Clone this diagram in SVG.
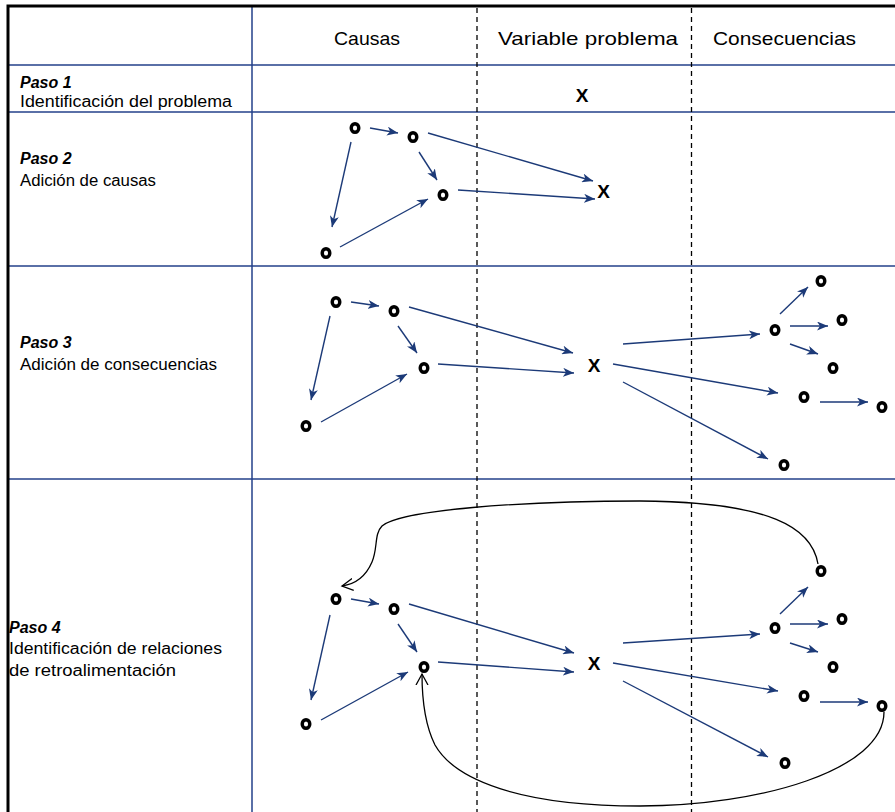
<svg xmlns="http://www.w3.org/2000/svg" width="895" height="812" viewBox="0 0 895 812">
<style>
.bg{fill:#ffffff}
.hl{stroke:#23408a;stroke-width:1.5;fill:none}
.dash{stroke:#000;stroke-width:1.3;stroke-dasharray:5,4;fill:none}
.border{stroke:#000;stroke-width:3;fill:none}
.hdr{font-family:"Liberation Sans",Arial,sans-serif;font-size:19px;fill:#000}
.step{font-family:"Liberation Sans",Arial,sans-serif;font-size:16px;font-weight:bold;font-style:italic;fill:#000}
.desc{font-family:"Liberation Sans",Arial,sans-serif;font-size:16px;fill:#000}
.xl{font-family:"Liberation Sans",Arial,sans-serif;font-size:19px;font-weight:bold;fill:#000;text-anchor:middle}
.node{fill:none;stroke:#000;stroke-width:3.4}
.arr{stroke:#1c3a78;stroke-width:1.4;fill:none;marker-end:url(#ah)}
.fb{stroke:#000;stroke-width:1.3;fill:none;marker-end:url(#oh)}
</style>
<defs>
<marker id="ah" markerUnits="userSpaceOnUse" markerWidth="12" markerHeight="9" refX="11" refY="4.5" orient="auto">
<path d="M0,0 L11,4.5 L0,9 L3,4.5 Z" fill="#1c3a78"/>
</marker>
<marker id="oh" markerUnits="userSpaceOnUse" markerWidth="13" markerHeight="14" refX="11" refY="7" orient="auto">
<path d="M0,1 L11,7 L0,13" fill="none" stroke="#000" stroke-width="1.3"/>
</marker>
</defs>
<rect class="bg" x="0" y="0" width="895" height="812"/>
<g id="table">
<line class="hl" x1="8" y1="65" x2="895" y2="65"/>
<line class="hl" x1="8" y1="112" x2="895" y2="112"/>
<line class="hl" x1="8" y1="266" x2="895" y2="266"/>
<line class="hl" x1="8" y1="479" x2="895" y2="479"/>
<line class="hl" x1="252" y1="6" x2="252" y2="812"/>
<line class="dash" x1="477" y1="8" x2="477" y2="812"/>
<line class="dash" x1="691.5" y1="8" x2="691.5" y2="812"/>
<path class="border" d="M8,812 L8,6 L895,6"/>
</g>
<g id="headers">
<text class="hdr" x="334" y="45" textLength="66" lengthAdjust="spacingAndGlyphs">Causas</text>
<text class="hdr" x="498" y="45" textLength="180" lengthAdjust="spacingAndGlyphs">Variable problema</text>
<text class="hdr" x="713" y="45" textLength="143" lengthAdjust="spacingAndGlyphs">Consecuencias</text>
</g>
<g id="step-labels">
<text class="step" x="20" y="88">Paso 1</text>
<text class="desc" x="20" y="107" textLength="212" lengthAdjust="spacingAndGlyphs">Identificación del problema</text>
<text class="step" x="20" y="164">Paso 2</text>
<text class="desc" x="20" y="186" textLength="136" lengthAdjust="spacingAndGlyphs">Adición de causas</text>
<text class="step" x="20" y="348">Paso 3</text>
<text class="desc" x="20" y="370" textLength="197" lengthAdjust="spacingAndGlyphs">Adición de consecuencias</text>
<text class="step" x="9" y="633">Paso 4</text>
<text class="desc" x="9" y="654" textLength="213" lengthAdjust="spacingAndGlyphs">Identificación de relaciones</text>
<text class="desc" x="9" y="676" textLength="167" lengthAdjust="spacingAndGlyphs">de retroalimentación</text>
</g>
<g id="s1-x"><text class="xl" x="582" y="102">X</text></g>
<g id="s2-a"><ellipse class="node" cx="355" cy="128" rx="3.8" ry="4.3"/></g>
<g id="s2-b"><ellipse class="node" cx="413" cy="137" rx="3.8" ry="4.3"/></g>
<g id="s2-c"><ellipse class="node" cx="443" cy="195" rx="3.8" ry="4.3"/></g>
<g id="s2-d"><ellipse class="node" cx="326" cy="253" rx="3.8" ry="4.3"/></g>
<g id="s2-x"><text class="xl" x="603.5" y="198">X</text></g>
<g id="s3-a"><ellipse class="node" cx="336" cy="302" rx="3.8" ry="4.3"/></g>
<g id="s3-b"><ellipse class="node" cx="394" cy="311" rx="3.8" ry="4.3"/></g>
<g id="s3-c"><ellipse class="node" cx="424" cy="368" rx="3.8" ry="4.3"/></g>
<g id="s3-d"><ellipse class="node" cx="306" cy="426" rx="3.8" ry="4.3"/></g>
<g id="s3-x"><text class="xl" x="594" y="372">X</text></g>
<g id="s3-e"><ellipse class="node" cx="775" cy="330" rx="3.8" ry="4.3"/></g>
<g id="s3-f"><ellipse class="node" cx="821" cy="281" rx="3.8" ry="4.3"/></g>
<g id="s3-g"><ellipse class="node" cx="842" cy="320" rx="3.8" ry="4.3"/></g>
<g id="s3-h"><ellipse class="node" cx="833" cy="368" rx="3.8" ry="4.3"/></g>
<g id="s3-i"><ellipse class="node" cx="804" cy="397" rx="3.8" ry="4.3"/></g>
<g id="s3-j"><ellipse class="node" cx="882" cy="407" rx="3.8" ry="4.3"/></g>
<g id="s3-k"><ellipse class="node" cx="784" cy="465" rx="3.8" ry="4.3"/></g>
<g id="s4-a"><ellipse class="node" cx="336" cy="599" rx="3.8" ry="4.3"/></g>
<g id="s4-b"><ellipse class="node" cx="394" cy="609" rx="3.8" ry="4.3"/></g>
<g id="s4-c"><ellipse class="node" cx="424" cy="667" rx="3.8" ry="4.3"/></g>
<g id="s4-d"><ellipse class="node" cx="306" cy="724" rx="3.8" ry="4.3"/></g>
<g id="s4-x"><text class="xl" x="594" y="670">X</text></g>
<g id="s4-e"><ellipse class="node" cx="775" cy="628" rx="3.8" ry="4.3"/></g>
<g id="s4-f"><ellipse class="node" cx="821" cy="571" rx="3.8" ry="4.3"/></g>
<g id="s4-g"><ellipse class="node" cx="842" cy="619" rx="3.8" ry="4.3"/></g>
<g id="s4-h"><ellipse class="node" cx="833" cy="667" rx="3.8" ry="4.3"/></g>
<g id="s4-i"><ellipse class="node" cx="804" cy="696" rx="3.8" ry="4.3"/></g>
<g id="s4-j"><ellipse class="node" cx="882" cy="706" rx="3.8" ry="4.3"/></g>
<g id="s4-k"><ellipse class="node" cx="785" cy="763" rx="3.8" ry="4.3"/></g>
<g id="connectors">
<line class="arr" x1="370" y1="128" x2="398" y2="133"/>
<line class="arr" x1="351" y1="142" x2="332" y2="227"/>
<line class="arr" x1="419" y1="152" x2="437" y2="180"/>
<line class="arr" x1="428" y1="133" x2="593" y2="181"/>
<line class="arr" x1="340" y1="247" x2="428" y2="199"/>
<line class="arr" x1="458" y1="190" x2="595" y2="199"/>
<line class="arr" x1="351" y1="302" x2="379" y2="306"/>
<line class="arr" x1="330" y1="316" x2="311" y2="400"/>
<line class="arr" x1="398" y1="326" x2="417" y2="353"/>
<line class="arr" x1="409" y1="307" x2="573" y2="353"/>
<line class="arr" x1="321" y1="422" x2="407" y2="374"/>
<line class="arr" x1="438" y1="364" x2="574" y2="373"/>
<line class="arr" x1="623" y1="344" x2="760" y2="334"/>
<line class="arr" x1="613" y1="364" x2="778" y2="393"/>
<line class="arr" x1="623" y1="382" x2="768" y2="459"/>
<line class="arr" x1="780" y1="314" x2="808" y2="287"/>
<line class="arr" x1="790" y1="326" x2="828" y2="326"/>
<line class="arr" x1="790" y1="344" x2="818" y2="354"/>
<line class="arr" x1="820" y1="402" x2="868" y2="402"/>
<line class="arr" x1="351" y1="599" x2="379" y2="604"/>
<line class="arr" x1="330" y1="615" x2="311" y2="700"/>
<line class="arr" x1="398" y1="624" x2="417" y2="652"/>
<line class="arr" x1="409" y1="604" x2="574" y2="653"/>
<line class="arr" x1="321" y1="720" x2="408" y2="672"/>
<line class="arr" x1="438" y1="662" x2="574" y2="672"/>
<line class="arr" x1="623" y1="643" x2="760" y2="634"/>
<line class="arr" x1="613" y1="663" x2="778" y2="691"/>
<line class="arr" x1="623" y1="681" x2="768" y2="757"/>
<line class="arr" x1="780" y1="614" x2="808" y2="587"/>
<line class="arr" x1="790" y1="624" x2="828" y2="624"/>
<line class="arr" x1="790" y1="643" x2="818" y2="652"/>
<line class="arr" x1="820" y1="702" x2="868" y2="702"/>
<path class="fb" d="M818,564 C812,528 772,502 640,501 C520,501 400,510 382,526 C374,534 378,548 372,562 C366,576 356,584 342,586"/>
<path class="fb" d="M884,712 C884,770 760,806 640,806 C520,806 455,780 435,745 C425,725 422,700 422,674"/>
</g>
</svg>
